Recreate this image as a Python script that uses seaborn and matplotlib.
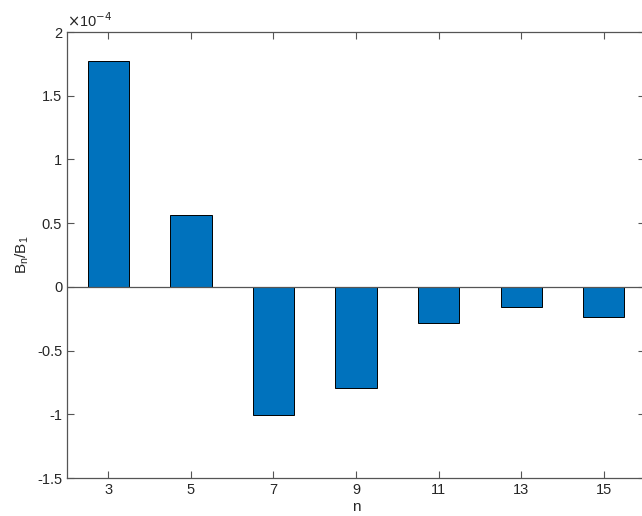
import matplotlib
matplotlib.use("Agg")
import matplotlib.pyplot as plt
from matplotlib.ticker import FuncFormatter, MultipleLocator
import pandas as pd
import seaborn as sns

N_VALUES = [3, 5, 7, 9, 11, 13, 15]
BN_OVER_B1 = [1.775e-4, 0.565e-4, -1.005e-4, -0.79e-4, -0.285e-4, -0.155e-4, -0.24e-4]

AXES_COLOR = "#262626"
SPINE_COLOR = "#555555"
BAR_COLOR = "#0072BD"

# ------------------------------------------------------------------------------
def main():
    df = pd.DataFrame({"n": N_VALUES, "ratio": BN_OVER_B1})

    sns.set_style("white")
    plt.rcParams["font.family"] = ["Liberation Sans", "DejaVu Sans"]

    fig = plt.figure(figsize = (6.42, 5.16), dpi = 100)
    # axes run slightly past the right edge, as in the reference export
    ax = fig.add_axes([67/642, 38/516, 578/642, 446/516])

    sns.barplot(
        data = df, x = "n", y = "ratio", color = BAR_COLOR, width = 0.5,
        edgecolor = "black", linewidth = 0.7, saturation = 1, ax = ax,
    )

    # baseline at zero like MATLAB
    ax.axhline(0, color = SPINE_COLOR, linewidth = 0.9, zorder = 3)

    ax.set_xlim(-0.5, len(N_VALUES) - 0.5)
    ax.set_ylim(-1.5e-4, 2e-4)
    ax.yaxis.set_major_locator(MultipleLocator(0.5e-4))
    ax.yaxis.set_major_formatter(FuncFormatter(lambda v, _: f"{round(v / 1e-4, 2):g}"))

    for side in ("left", "right", "top", "bottom"):
        ax.spines[side].set_visible(True)
        ax.spines[side].set_color(SPINE_COLOR)
        ax.spines[side].set_linewidth(0.9)
    ax.tick_params(
        axis = "both", which = "major", direction = "in", length = 5, width = 0.8,
        color = SPINE_COLOR, labelcolor = AXES_COLOR, labelsize = 10.5,
        top = True, right = True, left = True, bottom = True,
    )

    ax.set_xlabel("n", fontsize = 11, color = AXES_COLOR, labelpad = 2)
    ax.set_ylabel(r"B$_\mathregular{n}$/B$_\mathregular{1}$", fontsize = 11, color = AXES_COLOR, labelpad = 4)
    ax.text(0.0, 1.005, r"$\times$10$^{-4}$", transform = ax.transAxes,
            ha = "left", va = "bottom", fontsize = 10.5, color = AXES_COLOR)

    fig.savefig("out.png", dpi = 100)


################################################################################
if __name__ == "__main__":
    main()
